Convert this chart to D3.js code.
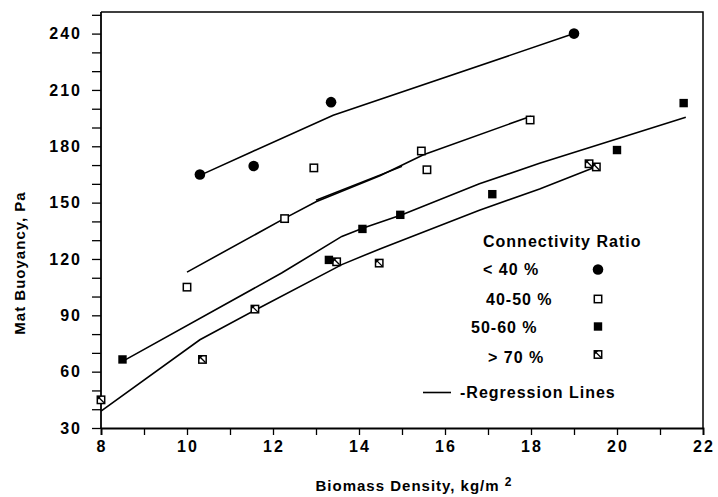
<!DOCTYPE html>
<meta charset="utf-8">
<style>
  body { margin: 0; background: #fff; }
  text { font-family: "Liberation Sans", Arial, sans-serif; font-weight: bold; fill: #000; }
</style>

<!-- Load d3.js -->
<script src="https://d3js.org/d3.v7.min.js"></script>

<!-- Create a div where the graph will take place -->
<div id="my_dataviz"></div>

<script>

// ---- data: [biomass density, mat buoyancy] ----
var ratioBelow40 = [[10.3, 165], [11.55, 169.5], [13.35, 203.5], [19.0, 240]];
var ratio40to50 = [[10.0, 105], [12.27, 141.5], [12.95, 168.5], [15.45, 177.5], [15.58, 167.5], [17.98, 194]];
var ratio50to60 = [[8.5, 66.5], [13.3, 119.5], [14.08, 136], [14.96, 143.5], [17.1, 154.5], [20.0, 178], [21.55, 203]];
var ratioAbove70 = [[8.0, 45], [10.36, 66.5], [11.58, 93.3], [13.48, 118.5], [14.47, 117.8], [19.35, 170.7], [19.52, 169]];

// regression lines
var regBelow40 = [[10.3, 164.5], [11.5, 177], [13.4, 196.5], [19.0, 240]];
var reg40to50 = [[10.0, 113], [12.3, 142], [13.0, 150.5], [14.5, 164.5], [15.5, 175.5], [18.0, 196]];
var reg40to50b = [[13.0, 151.3], [15.0, 169.3]];
var reg50to60 = [[8.5, 65.5], [12.2, 112.5], [13.6, 132], [14.1, 136.5], [15.0, 143.5], [16.8, 160], [18.2, 171], [21.6, 195.5]];
var regAbove70 = [[8.0, 39], [10.3, 77], [11.6, 93], [13.6, 117], [14.5, 125.5], [16.8, 146], [18.2, 157.3], [19.5, 169]];

// ticks and labels
var xMajor = [8, 10, 12, 14, 16, 18, 20, 22];
var xMinor = d3.range(8, 22.5, 1);
var yMajor = [30, 60, 90, 120, 150, 180, 210, 240];
var yMinor = d3.range(30, 251, 10);
var legendLabels = ["< 40 %", "40-50 %", "50-60 %", "> 70 %"];

// set the dimensions and margins of the graph
var margin = {top: 12, right: 15, bottom: 69, left: 101},
    width = 718 - margin.left - margin.right,
    height = 497 - margin.top - margin.bottom;

var svg = d3.select("#my_dataviz")
  .append("svg")
    .attr("width", width + margin.left + margin.right)
    .attr("height", height + margin.top + margin.bottom)
  .append("g")
    .attr("transform", "translate(" + margin.left + "," + margin.top + ")");

var x = d3.scaleLinear().domain([8, 22]).range([0, width]);
var y = d3.scaleLinear().domain([30, 251.5]).range([height, 0]);

// frame (top + right)
svg.append("path")
  .attr("d", "M0,0H" + width + "V" + height)
  .attr("fill", "none")
  .attr("stroke", "#000")
  .attr("stroke-width", 1.5);

// X axis
var xAxis = svg.append("g")
  .attr("transform", "translate(0," + height + ")")
  .call(d3.axisBottom(x).tickValues(xMinor).tickSize(7).tickFormat(""));
xAxis.select(".domain").attr("stroke-width", 1.8);
xAxis.selectAll(".tick line").attr("stroke-width", 1.3);

svg.selectAll(".xlab")
  .data(xMajor)
  .enter().append("text")
    .attr("x", function(d) { return x(d) + 1; })
    .attr("y", height + 24)
    .attr("text-anchor", "middle")
    .style("font-size", "16px")
    .style("letter-spacing", "2px")
    .text(function(d) { return d; });

// Y axis
var yAxis = svg.append("g")
  .call(d3.axisLeft(y).tickValues(yMinor).tickSize(9).tickFormat(""));
yAxis.select(".domain").attr("d", "M0," + height + "V0").attr("stroke-width", 1.8);
yAxis.selectAll(".tick line").attr("stroke-width", 1.3);

svg.selectAll(".ylab")
  .data(yMajor)
  .enter().append("text")
    .attr("x", -19)
    .attr("y", function(d) { return y(d); })
    .attr("dy", "0.36em")
    .attr("text-anchor", "end")
    .style("font-size", "16px")
    .style("letter-spacing", "2px")
    .text(function(d) { return d; });

// axis titles
svg.append("text")
  .attr("transform", "rotate(-90)")
  .attr("x", -(263 - margin.top))
  .attr("y", 25 - margin.left)
  .attr("text-anchor", "middle")
  .style("font-size", "15px")
  .style("letter-spacing", "1px")
  .text("Mat Buoyancy, Pa");

var xt = svg.append("text")
  .attr("x", 414 - margin.left)
  .attr("y", 491 - margin.top)
  .attr("text-anchor", "middle")
  .style("font-size", "15px")
  .style("letter-spacing", "1px");
xt.append("tspan").text("Biomass Density, kg/m ");
xt.append("tspan").attr("dy", -5).style("font-size", "12px").text("2");

// regression lines
var line = d3.line()
  .x(function(d) { return x(d[0]); })
  .y(function(d) { return y(d[1]); });

[regBelow40, reg40to50, reg40to50b, reg50to60, regAbove70].forEach(function(r) {
  svg.append("path")
    .datum(r)
    .attr("fill", "none")
    .attr("stroke", "#000")
    .attr("stroke-width", 1.6)
    .attr("d", line);
});

// marker drawers
function circleMark(g) {
  g.append("circle").attr("r", 5.3).attr("fill", "#000");
}
function openMark(g) {
  g.append("rect").attr("x", -3.7).attr("y", -3.7).attr("width", 7.4).attr("height", 7.4)
    .attr("fill", "#fff").attr("stroke", "#000").attr("stroke-width", 1.5);
}
function filledMark(g) {
  g.append("rect").attr("x", -4.2).attr("y", -4.2).attr("width", 8.4).attr("height", 8.4)
    .attr("fill", "#000");
}
function hatchMark(g) {
  g.append("rect").attr("x", -3.7).attr("y", -3.7).attr("width", 7.4).attr("height", 7.4)
    .attr("fill", "#fff").attr("stroke", "#000").attr("stroke-width", 1.5);
  g.append("path").attr("d", "M-3.7,-3.7L-3.7,0.5L0.5,-3.7Z").attr("fill", "#000");
  g.append("line").attr("x1", -3).attr("y1", -3).attr("x2", 3).attr("y2", 3)
    .attr("stroke", "#000").attr("stroke-width", 1.3);
}

function drawSeries(data, mark) {
  svg.selectAll(null)
    .data(data)
    .enter().append("g")
      .attr("transform", function(d) { return "translate(" + x(d[0]) + "," + y(d[1]) + ")"; })
      .each(function() { mark(d3.select(this)); });
}
drawSeries(ratioBelow40, circleMark);
drawSeries(ratio40to50, openMark);
drawSeries(ratio50to60, filledMark);
drawSeries(ratioAbove70, hatchMark);

// legend (page coordinates)
var lg = d3.select("svg").append("g");
lg.append("text")
  .attr("x", 483).attr("y", 247)
  .style("font-size", "16px")
  .style("letter-spacing", "1px")
  .text("Connectivity Ratio");

var legRows = [
  {tx: 483, ty: 275, sy: 269.5, mark: circleMark},
  {tx: 486, ty: 305, sy: 299, mark: openMark},
  {tx: 471, ty: 333, sy: 326.5, mark: filledMark},
  {tx: 488, ty: 363, sy: 354.5, mark: hatchMark}
];
legRows.forEach(function(r, i) {
  lg.append("text")
    .attr("x", r.tx).attr("y", r.ty)
    .style("font-size", "16px")
    .style("letter-spacing", "1px")
    .text(legendLabels[i]);
  r.mark(lg.append("g").attr("transform", "translate(598," + r.sy + ")"));
});

lg.append("line")
  .attr("x1", 423).attr("x2", 451).attr("y1", 392.5).attr("y2", 392.5)
  .attr("stroke", "#000").attr("stroke-width", 1.6);
lg.append("text")
  .attr("x", 460).attr("y", 398)
  .style("font-size", "16px")
  .style("letter-spacing", "1px")
  .text("-Regression Lines");

</script>
